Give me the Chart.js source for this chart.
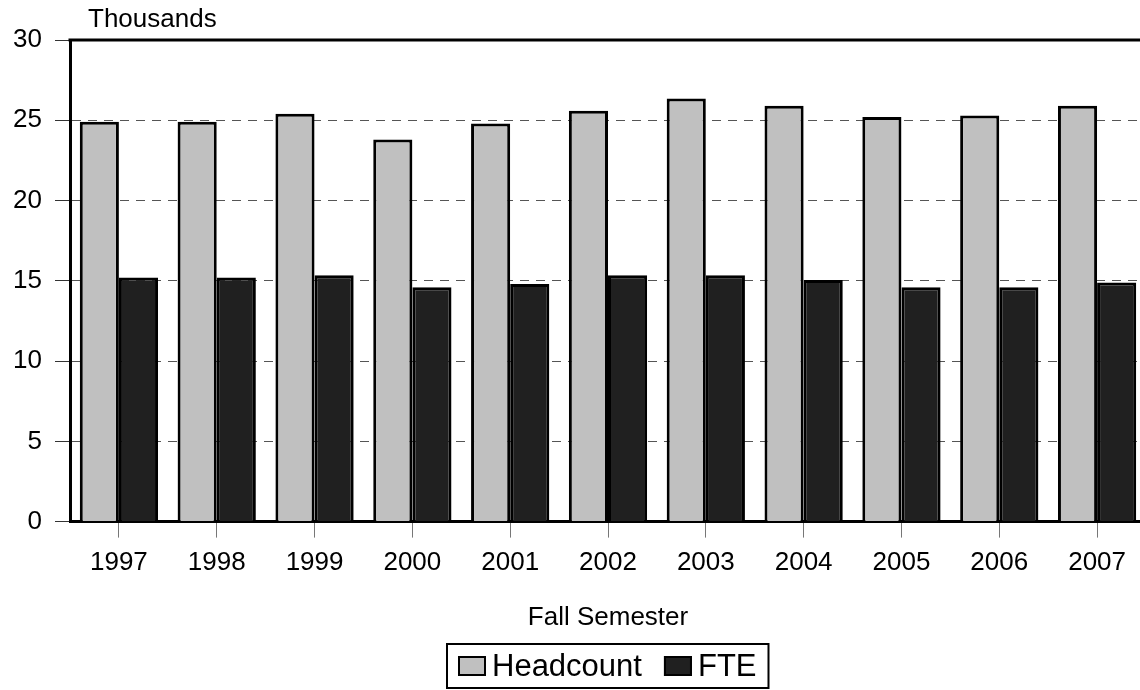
<!DOCTYPE html>
<html>
<head>
<meta charset="utf-8">
<script src="https://cdn.jsdelivr.net/npm/chart.js@4/dist/chart.umd.min.js"></script>
<style>
  html, body { margin: 0; padding: 0; background: #fff; overflow: hidden; }
  #wrap { width: 1146px; height: 690px; }
</style>
</head>
<body>
<div id="wrap"><canvas id="enrollChart"></canvas></div>
<script>
  // fall semester enrollment, in thousands
  const years = ['1997', '1998', '1999', '2000', '2001', '2002', '2003', '2004', '2005', '2006', '2007'];
  const headcount = [24.9, 24.9, 25.4, 23.8, 24.8, 25.6, 26.35, 25.9, 25.2, 25.3, 25.9];
  const fte = [15.2, 15.2, 15.35, 14.6, 14.8, 15.35, 15.35, 15.05, 14.6, 14.6, 14.9];
  const yTicks = [0, 5, 10, 15, 20, 25, 30];

  const FONT = 'Liberation Sans, Arial, sans-serif';

  // top frame line, unit label and the boxed legend under the axis title
  const extras = {
    id: 'extras',
    afterDraw(chart) {
      const c = chart.ctx, a = chart.chartArea;
      c.save();
      c.strokeStyle = '#000';
      c.lineWidth = 3;
      c.beginPath();
      c.moveTo(a.left - 1.5, a.top);
      c.lineTo(a.right, a.top);
      c.stroke();

      c.fillStyle = '#000';
      c.font = '26px ' + FONT;
      c.textBaseline = 'alphabetic';
      c.fillText('Thousands', 88, 27);

      // legend
      c.font = '31px ' + FONT;
      const sets = chart.data.datasets;
      const sw = 28, sh = 20, gapTxt = 6, gapItem = 22, padL = 11, padR = 12;
      let total = padL + padR;
      sets.forEach((d, i) => {
        total += sw + gapTxt + c.measureText(d.label).width;
        if (i < sets.length - 1) total += gapItem;
      });
      const cx = (a.left + a.right) / 2;
      const boxTop = 644, boxH = 44;
      const x0 = Math.round(cx - total / 2);
      c.lineWidth = 2;
      c.strokeRect(x0, boxTop, total, boxH);
      const cy = boxTop + boxH / 2;
      let x = x0 + padL;
      sets.forEach(d => {
        c.fillStyle = d.backgroundColor;
        c.fillRect(x, cy - sh / 2, sw, sh);
        c.strokeStyle = '#000';
        c.lineWidth = 2;
        c.strokeRect(x + 1, cy - sh / 2 + 1, sw - 2, sh - 2);
        x += sw + gapTxt;
        c.fillStyle = '#000';
        c.textBaseline = 'middle';
        c.fillText(d.label, x, cy + 1);
        x += c.measureText(d.label).width + gapItem;
      });
      c.restore();
    }
  };

  const ctx = document.getElementById('enrollChart').getContext('2d');
  const enrollChart = new Chart(ctx, {
    type: 'bar',
    data: {
      labels: years,
      datasets: [{
        label: 'Headcount',
        data: headcount,
        backgroundColor: '#c0c0c0',
        borderColor: '#000',
        borderWidth: 3
      }, {
        label: 'FTE',
        data: fte,
        backgroundColor: '#202020',
        borderColor: '#000',
        borderWidth: 3
      }]
    },
    options: {
      responsive: true,
      maintainAspectRatio: false,
      animation: false,
      layout: { padding: { top: 40, left: 0, right: 0, bottom: 50 } },
      datasets: { bar: { barPercentage: 1.0, categoryPercentage: 0.8 } },
      scales: {
        y: {
          min: 0,
          max: 30,
          afterFit: s => { s.width = 70; },
          afterBuildTicks: s => { s.ticks = yTicks.map(v => ({ value: v })); },
          border: { width: 3, color: '#000', dash: [9, 7] },
          grid: {
            color: '#555',
            lineWidth: 1,
            tickBorderDash: [],
            tickColor: '#333',
            tickLength: 15
          },
          ticks: { color: '#000', padding: 13, font: { family: FONT, size: 26 } }
        },
        x: {
          border: { width: 3, color: '#000' },
          grid: { drawOnChartArea: false, offset: false, tickLength: 16, tickColor: '#777' },
          ticks: { color: '#000', padding: 10, font: { family: FONT, size: 26 } },
          title: {
            display: true,
            text: 'Fall Semester',
            color: '#000',
            font: { family: FONT, size: 26 },
            padding: { top: 13, bottom: 7 }
          }
        }
      },
      plugins: {
        legend: { display: false },
        tooltip: { enabled: false }
      }
    },
    plugins: [extras]
  });
</script>
</body>
</html>
